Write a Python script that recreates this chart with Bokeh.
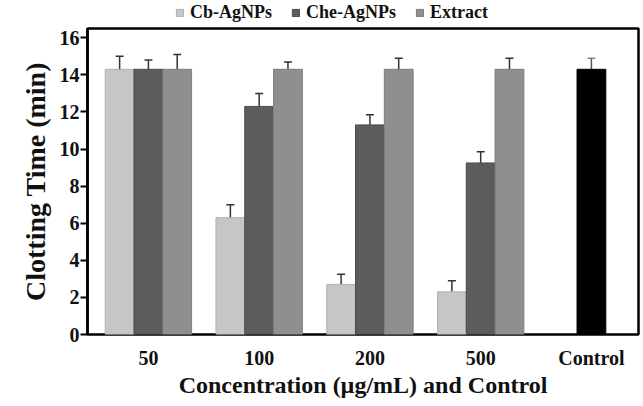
from bokeh.plotting import figure
from bokeh.layouts import column
from bokeh.models import (ColumnDataSource, Range1d, FixedTicker, Whisker, Legend, LegendItem)
from bokeh.embed import file_html
from bokeh.resources import INLINE

categories = ["50", "100", "200", "500", "Control"]
series = ["Cb-AgNPs", "Che-AgNPs", "Extract"]
cb_vals = [14.3, 6.3, 2.7, 2.3]
cb_err = [0.7, 0.7, 0.55, 0.6]
che_vals = [14.3, 12.3, 11.3, 9.25]
che_err = [0.5, 0.7, 0.55, 0.6]
ext_vals = [14.3, 14.3, 14.3, 14.3]
ext_err = [0.8, 0.4, 0.6, 0.6]
control_val = [14.3]
control_err = [0.6]
y_ticks = [0, 2, 4, 6, 8, 10, 12, 14, 16]

colors = ["#c6c6c6", "#5c5c5c", "#8f8f8f"]
edge = ["#b0b0b0", "#4a4a4a", "#7c7c7c"]
offsets = [-0.26, 0.0, 0.26]
width = 0.26

FONT = "Liberation Serif"
FRAME_H = 306
FRAME_W = 551
LEFT = 87
RIGHT = 3
LEG_H = 26
TOTAL_W = LEFT + FRAME_W + RIGHT

p = figure(frame_width=FRAME_W, frame_height=FRAME_H, output_backend="svg", toolbar_location=None,
           x_range=Range1d(-0.55, 4.425), y_range=Range1d(0, 16.5),
           min_border_left=LEFT, min_border_right=RIGHT, min_border_top=28 - LEG_H, min_border_bottom=60)
p.grid.visible = False
p.outline_line_color = "black"
p.outline_line_width = 2.5
p.background_fill_color = "white"
p.border_fill_color = "white"

for vals, errs, col, ec, off in zip([cb_vals, che_vals, ext_vals], [cb_err, che_err, ext_err], colors, edge, offsets):
    xs = [i + off for i in range(len(vals))]
    src = ColumnDataSource(dict(x=xs, top=vals, upper=[v + e for v, e in zip(vals, errs)],
                                lower=[v - e for v, e in zip(vals, errs)]))
    p.vbar(x="x", top="top", bottom=0, width=width, source=src, fill_color=col, line_color=ec, line_width=1)
    w = Whisker(base="x", upper="upper", lower="lower", source=src, line_color="#333333", line_width=1.5)
    w.upper_head.size = 8
    w.lower_head.size = 8
    w.upper_head.line_color = "#333333"
    w.lower_head.line_color = "#333333"
    w.upper_head.line_width = 1.5
    w.lower_head.line_width = 1.5
    p.add_layout(w)

csrc = ColumnDataSource(dict(x=[4], top=control_val, upper=[control_val[0] + control_err[0]],
                             lower=[control_val[0] - control_err[0]]))
p.vbar(x="x", top="top", bottom=0, width=width, source=csrc, fill_color="black", line_color="black")
wc = Whisker(base="x", upper="upper", lower="lower", source=csrc, line_color="#555555", line_width=1.5)
wc.upper_head.size = 8
wc.lower_head.size = 8
wc.upper_head.line_color = "#555555"
wc.lower_head.line_color = "#555555"
p.add_layout(wc)

# axes
p.xaxis.ticker = FixedTicker(ticks=list(range(len(categories))))
p.xaxis.major_label_overrides = {i: c for i, c in enumerate(categories)}
p.xaxis.major_tick_line_color = None
p.xaxis.minor_tick_line_color = None
p.xaxis.axis_line_color = None
p.xaxis.major_label_text_font = FONT
p.xaxis.major_label_text_font_style = "bold"
p.xaxis.major_label_text_font_size = "20px"
p.xaxis.major_label_text_color = "#111111"
p.xaxis.major_label_standoff = 6
p.xaxis.axis_label = "Concentration (\u00b5g/mL) and Control"
p.xaxis.axis_label_text_font = FONT
p.xaxis.axis_label_text_font_style = "bold"
p.xaxis.axis_label_text_font_size = "24px"
p.xaxis.axis_label_text_color = "#111111"
p.xaxis.axis_label_standoff = 0

p.yaxis.ticker = FixedTicker(ticks=y_ticks)
p.yaxis.minor_tick_line_color = None
p.yaxis.major_tick_out = 7
p.yaxis.major_tick_in = 0
p.yaxis.major_tick_line_width = 2
p.yaxis.axis_line_width = 2.5
p.yaxis.major_label_text_font = FONT
p.yaxis.major_label_text_font_style = "bold"
p.yaxis.major_label_text_font_size = "20px"
p.yaxis.major_label_text_color = "#111111"
p.yaxis.major_label_standoff = 1
p.yaxis.axis_label = "Clotting Time (min)"
p.yaxis.axis_label_text_font = FONT
p.yaxis.axis_label_text_font_style = "bold"
p.yaxis.axis_label_text_font_size = "28px"
p.yaxis.axis_label_text_color = "#111111"
p.yaxis.axis_label_standoff = 6

# legend strip above the chart (legend keys use empty proxy glyphs)
lf = figure(width=TOTAL_W, height=LEG_H, output_backend="svg", toolbar_location=None,
            x_range=Range1d(0, 1), y_range=Range1d(0, 1),
            x_axis_location=None, y_axis_location=None,
            min_border_left=0, min_border_right=0, min_border_top=0, min_border_bottom=0)
lf.grid.visible = False
lf.outline_line_color = None
lf.background_fill_color = "white"
lf.border_fill_color = "white"
leg_renderers = []
for col, ec in zip(colors, edge):
    proxy = ColumnDataSource(dict(x=[float("nan")], top=[float("nan")]))
    r = lf.vbar(x="x", top="top", width=0.1, source=proxy, fill_color=col, line_color=ec)
    leg_renderers.append(r)

legend = Legend(items=[LegendItem(label=s, renderers=[r]) for s, r in zip(series, leg_renderers)],
                orientation="horizontal", location=(88, 3),
                label_text_font=FONT, label_text_font_style="bold", label_text_font_size="18px",
                label_text_color="#111111", label_height=20,
                glyph_width=9, glyph_height=9, label_standoff=6, spacing=19,
                padding=0, margin=0, border_line_color=None, background_fill_alpha=0)
lf.add_layout(legend)

layout = column(lf, p, spacing=0)
open("out.html", "w").write(file_html(layout, INLINE))
